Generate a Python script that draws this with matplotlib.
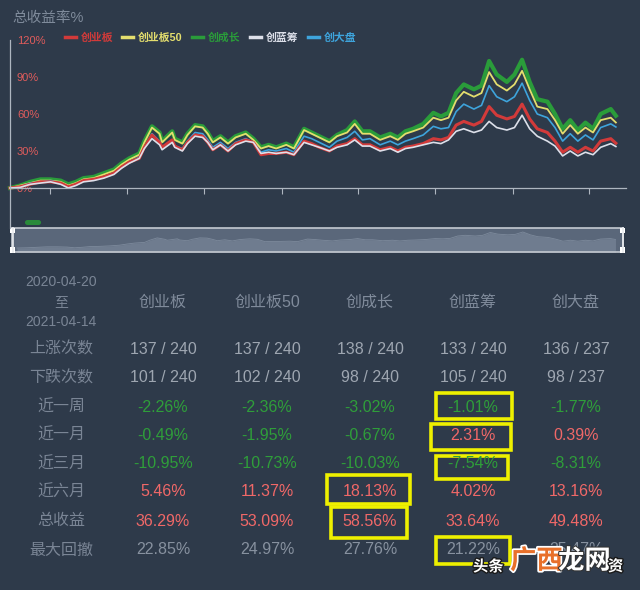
import matplotlib.pyplot as plt
from matplotlib.patches import Rectangle, FancyBboxPatch
import matplotlib.patheffects as pe

plt.rcParams['font.family'] = ['Liberation Sans', 'Noto Sans CJK SC', 'DejaVu Sans']

BG = '#2e3a4a'

# trading-day index of each sampled point
days = [0, 4, 8, 12, 16, 20, 23, 26, 29, 33, 37, 41, 44, 47, 51, 53, 56, 59, 60, 64,
        65, 68, 70, 73, 76, 78, 80, 83, 86, 89, 93, 96, 99, 102, 105, 109, 112, 116, 119, 122,
        126, 129, 133, 136, 139, 142, 146, 150, 153, 156, 159, 163, 167, 170, 173, 176, 179, 183, 186, 189,
        192, 196, 199, 202, 205, 208, 212, 215, 218, 221, 224, 227, 230, 233, 237, 239]

# total return % per index
cyb = [0, 1, 3, 5, 5, 4, 1, 3, 6, 7, 9, 12, 17, 21, 24, 33, 43, 37, 33, 39,
       34, 31, 37, 43, 42, 37, 31, 35, 30, 36, 39, 37, 27, 28, 28, 29, 27, 38, 36, 33,
       30, 34, 36, 40, 35, 35, 31, 33, 30, 33, 34, 36, 40, 39, 41, 51, 54, 51, 54, 66,
       59, 56, 58, 68, 56, 48, 45, 38, 29, 33, 29, 33, 30, 38, 40, 36.29]
cyb50 = [0, 2, 4, 6, 6, 5, 2, 4, 7, 8, 11, 14, 19, 23, 27, 37, 49, 44, 37, 45,
         39, 36, 43, 50, 49, 44, 37, 41, 36, 41, 44, 39, 32, 34, 32, 35, 32, 47, 44, 41,
         37, 42, 45, 52, 44, 44, 39, 42, 39, 44, 46, 49, 57, 55, 57, 71, 78, 74, 77, 94,
         84, 79, 84, 95, 80, 66, 64, 55, 44, 51, 44, 49, 45, 55, 57, 53.09]
ccz = [0, 2, 5, 7, 7, 6, 3, 5, 8, 9, 12, 15, 20, 24, 28, 38, 50, 45, 38, 46,
       40, 37, 44, 51, 50, 45, 38, 42, 37, 42, 45, 40, 33, 35, 33, 36, 33, 48, 45, 42,
       38, 43, 47, 54, 46, 46, 41, 44, 41, 46, 48, 52, 61, 58, 61, 77, 84, 80, 83, 103,
       92, 86, 92, 104, 86, 72, 70, 60, 48, 55, 47, 53, 48, 60, 64, 58.56]
clc = [0, 0.5, 3, 4, 5, 3, 0, 2, 5, 6, 8, 11, 16, 20, 24, 32, 40, 35, 31, 37,
       33, 30, 36, 42, 41, 37, 31, 35, 30, 35, 38, 37, 28, 29, 28, 29, 27, 37, 35, 33,
       30, 33, 35, 39, 34, 34, 30, 32, 29, 32, 33, 35, 37, 36, 39, 46, 48, 45, 47, 54,
       49, 47, 49, 59, 48, 42, 38, 34, 26, 30, 26, 29, 27, 33, 36, 33.64]
cdp = [0, 1, 4, 5, 6, 4, 1, 3, 6, 7, 9, 12, 17, 21, 25, 33, 44, 38, 33, 39,
       34, 32, 38, 45, 44, 39, 33, 37, 32, 37, 40, 37, 29, 31, 30, 32, 29, 42, 40, 37,
       33, 38, 41, 46, 39, 40, 35, 38, 35, 38, 40, 43, 50, 48, 49, 62, 68, 64, 67, 83,
       74, 70, 74, 85, 71, 60, 57, 49, 38, 44, 38, 43, 39, 49, 52, 49.48]

xticks = [15.8, 46.1, 76.5, 107.3, 137.2, 167.6, 198.3, 228.3]
yticks = [0, 30, 60, 90, 120]

names = ['创业板', '创业板50', '创成长', '创蓝筹', '创大盘']
colors = ['#d23a3a', '#e4de6e', '#2a9c3a', '#dde0ea', '#3ea4dc']

period = ['2020-04-20', '至', '2021-04-14']
row_labels = ['上涨次数', '下跌次数', '近一周', '近一月', '近三月', '近六月', '总收益', '最大回撤']
up_days = [137, 137, 138, 133, 136]
down_days = [101, 102, 98, 105, 98]
total_days = [240, 240, 240, 240, 237]
week = [-2.26, -2.36, -3.02, -1.01, -1.77]
month = [-0.49, -1.95, -0.67, 2.31, 0.39]
month3 = [-10.95, -10.73, -10.03, -7.54, -8.31]
month6 = [5.46, 11.37, 18.13, 4.02, 13.16]
total = [36.29, 53.09, 58.56, 33.64, 49.48]
max_dd = [22.85, 24.97, 27.76, 21.22, 25.47]

W, H = 640, 590
fig = plt.figure(figsize=(W / 100, H / 100), dpi=100, facecolor=BG)


def fx(x):
    return x / W


def fy(y):
    return 1 - y / H


# ---- line chart ----
ax = fig.add_axes([fx(10), fy(188), 616 / W, 148 / H])
ax.set_facecolor('none')
order = [2, 1, 4, 0, 3]
series = [cyb, cyb50, ccz, clc, cdp]
widths = [2.2, 1.3, 3.0, 1.2, 1.2]
for i in order:
    ax.plot(days, series[i], color=colors[i], lw=widths[i], solid_joinstyle='round', clip_on=False)
ax.set_xlim(0, 243)
ax.set_ylim(0, 120)
for s in ['top', 'right', 'left']:
    ax.spines[s].set_visible(False)
ax.spines['bottom'].set_color('#aeb6c0')
ax.spines['bottom'].set_linewidth(0.9)
ax.set_xticks(xticks)
ax.set_xticklabels([])
ax.tick_params(axis='x', length=4, color='#aeb6c0', width=0.8)
ax.set_yticks(yticks)
ax.set_yticklabels([f'{v}%' for v in yticks])
ax.tick_params(axis='y', length=0, pad=-5, labelsize=8, labelcolor='#e05c5c')
for lab in ax.get_yticklabels():
    lab.set_horizontalalignment('left')

# vertical axis line reaching down to the slider
fig.add_artist(plt.Line2D([fx(10), fx(10)], [fy(40), fy(228)], color='#aeb6c0', lw=0.9))

fig.text(fx(12), fy(18), '总收益率%', color='#7f8b9b', fontsize=10.5, va='center', ha='left')

# legend
leg_dash = [64.5, 122, 192, 250, 308]
for i, name in enumerate(names):
    x0 = leg_dash[i]
    fig.add_artist(plt.Line2D([fx(x0), fx(x0 + 11)], [fy(37), fy(37)], color=colors[i], lw=2.5))
    fig.text(fx(x0 + 16), fy(37.5), name, color=colors[i], fontsize=7.8, fontweight='bold',
             va='center', ha='left')

# ---- data zoom slider ----
sl = fig.add_axes([fx(12), fy(252), 611 / W, 24 / H])
sl.set_facecolor('#5a677a')
sl.fill_between(days, -17, cyb, color='#6f7c8f', lw=0)
sl.plot(days, cyb, color='#7d8a9c', lw=0.6)
sl.set_xlim(-2, 242)
sl.set_ylim(-17, 85)
sl.set_xticks([])
sl.set_yticks([])
for s in sl.spines.values():
    s.set_color('#c4c9d1')
    s.set_linewidth(1.2)
for hx in [12.5, 622.5]:
    fig.add_artist(plt.Line2D([fx(hx), fx(hx)], [fy(228), fy(252)], color='#e8eaee', lw=1.2))
    for hy in [228, 247]:
        fig.add_artist(Rectangle((fx(hx - 2.7), fy(hy + 5.5)), 5.4 / W, 5.5 / H,
                                 facecolor='white', edgecolor='none'))
fig.add_artist(FancyBboxPatch((fx(25), fy(225)), 16 / W, 5 / H,
                              boxstyle='round,pad=0,rounding_size=0.004',
                              facecolor='#2a8a3a', edgecolor='none'))

# ---- statistics table ----
col_x = [163, 267, 370, 473, 576]
label_x = 61
lab_col = '#7a8595'
for yy, t in zip([282, 302, 322], period):
    fig.text(fx(label_x), fy(yy), t, color=lab_col, fontsize=10, ha='center', va='center')
for cx, name in zip(col_x, names):
    fig.text(fx(cx), fy(302), name, color='#808b9b', fontsize=11.5, ha='center', va='center')

row_y = [349, 378, 407, 435, 464, 492, 521, 550]
for yy, t in zip(row_y, row_labels):
    fig.text(fx(label_x), fy(yy), t, color=lab_col, fontsize=11.5, ha='center', va='center')


def pct_color(v):
    return '#f06868' if v > 0 else '#2f9e3a'


for j, cx in enumerate(col_x):
    fig.text(fx(cx), fy(row_y[0]), f'{up_days[j]} / {total_days[j]}', color='#9ea6b1',
             fontsize=11.5, ha='center', va='center')
    fig.text(fx(cx), fy(row_y[1]), f'{down_days[j]} / {total_days[j]}', color='#9ea6b1',
             fontsize=11.5, ha='center', va='center')
    for r, vals in zip(row_y[2:7], [week, month, month3, month6, total]):
        v = vals[j]
        fig.text(fx(cx), fy(r), f'{v:.2f}%', color=pct_color(v), fontsize=11.5,
                 ha='center', va='center')
    fig.text(fx(cx), fy(row_y[7]), f'{max_dd[j]:.2f}%', color='#87919f',
             fontsize=11.5, ha='center', va='center')

# highlight boxes (pixel boxes: x0, y0, x1, y1)
boxes = [(436, 393, 512, 419), (431, 424, 511, 450), (436, 456, 508, 479),
         (327, 475, 410, 504), (331, 507, 407, 538), (436, 537, 510, 564)]
for x0, y0, x1, y1 in boxes:
    fig.add_artist(Rectangle((fx(x0), fy(y1)), (x1 - x0) / W, (y1 - y0) / H,
                             fill=False, edgecolor='#eef000', lw=2.6))

# watermark (covers part of the last drawdown value, as in the source image)
stroke = [pe.withStroke(linewidth=2, foreground='#1a1a1a')]
fig.text(fx(473), fy(567), '头条', color='white', fontsize=11, fontweight='bold',
         ha='left', va='center', path_effects=stroke)
fig.text(fx(510), fy(561), '广西', color='#e8702a', fontsize=19, fontweight='bold',
         ha='left', va='center', path_effects=[pe.withStroke(linewidth=2.5, foreground='white')])
fig.text(fx(558), fy(561), '龙网', color='white', fontsize=19, fontweight='bold',
         ha='left', va='center', path_effects=[pe.withStroke(linewidth=1.5, foreground='#333333')])
fig.text(fx(608), fy(567), '资', color='white', fontsize=11, fontweight='bold',
         ha='left', va='center', path_effects=stroke)

fig.savefig('out.png', dpi=100, facecolor=BG)
